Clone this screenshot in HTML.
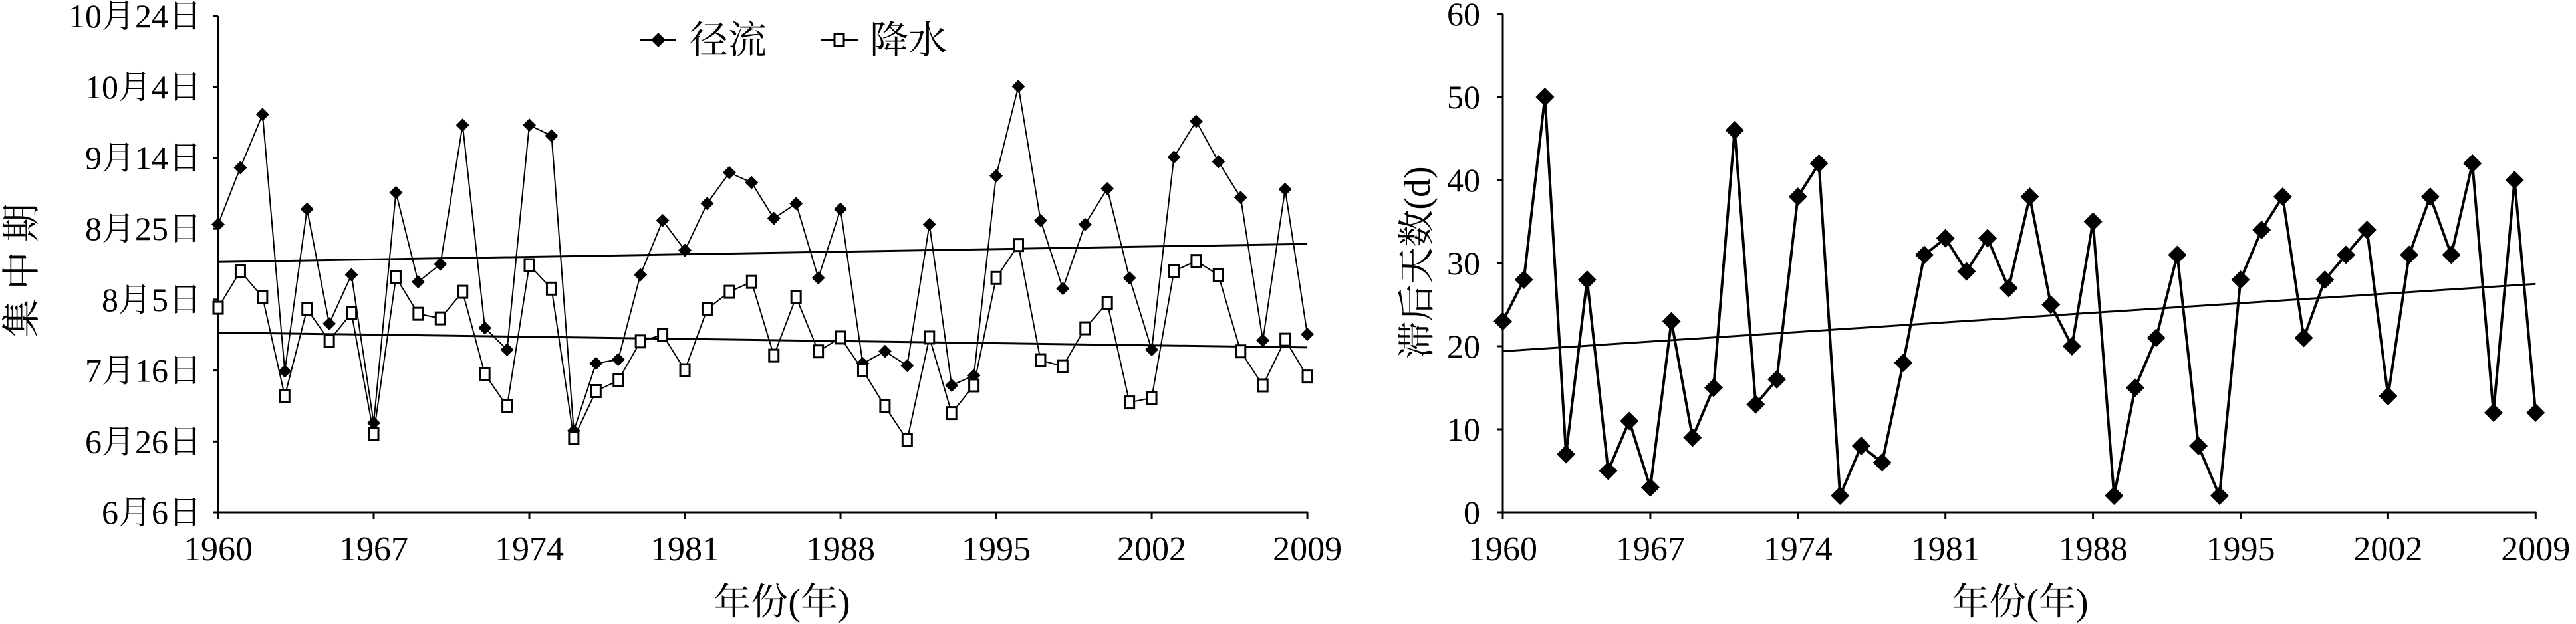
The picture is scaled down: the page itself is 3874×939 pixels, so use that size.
<!DOCTYPE html>
<html><head><meta charset="utf-8">
<style>
html,body{margin:0;padding:0;background:#fff;}
svg{display:block;}
text{font-family:"Liberation Serif","Noto Serif CJK SC","Noto Sans CJK SC",serif;fill:#000;}
</style></head>
<body>
<svg id="s" width="3874" height="939" viewBox="0 0 3874 939" xmlns="http://www.w3.org/2000/svg"></svg>
<script>
const s=document.getElementById('s');
let h='';
function ln(x1,y1,x2,y2,w){h+=`<line x1="${x1}" y1="${y1}" x2="${x2}" y2="${y2}" stroke="#000" stroke-width="${w}"/>`;}
function tx(x,y,t,sz,anc,extra){h+=`<text x="${x}" y="${y}" font-size="${sz}" text-anchor="${anc||'middle'}" ${extra||''}>${t}</text>`;}
function dia(x,y,r){h+=`<polygon points="${x},${y-r} ${x+r},${y} ${x},${y+r} ${x-r},${y}" fill="#000"/>`;}
function sq(x,y){h+=`<rect x="${x-7}" y="${y-9}" width="14" height="18" fill="#fff" stroke="#000" stroke-width="3"/>`;}
const L0=328,LS=33.43,LY0=771,LD=5.336;
const run=[81.2,97.2,112.2,39.8,85.5,53.2,67.0,25.2,90.2,65.0,70.0,109.2,52.0,45.9,109.2,106.2,23.0,42.0,43.1,67.0,82.3,73.9,87.1,95.8,93.0,82.9,87.1,66.1,85.5,42.0,45.4,41.4,81.2,35.8,38.6,94.9,120.1,82.3,63.1,81.2,91.3,66.1,45.9,100.2,110.3,98.9,88.8,48.5,91.1,50.2];
const pre=[57.7,68.0,60.7,32.8,57.3,48.4,56.2,22.1,66.3,56.0,54.7,62.2,39.0,29.9,69.7,63.1,20.9,34.2,37.2,48.2,50.1,40.1,57.3,62.2,65.0,44.2,60.7,45.4,49.3,40.1,29.9,20.4,49.3,28.0,35.8,66.1,75.4,42.9,41.2,51.9,59.1,31.0,32.3,68.0,70.9,66.9,45.4,35.8,48.7,38.3];
const lx=i=>L0+i*LS, ly=d=>LY0-d*LD;
ln(L0,24,L0,773,3); ln(L0-2,771,lx(49)+1,771,3);
const ylab=['6月6日','6月26日','7月16日','8月5日','8月25日','9月14日','10月4日','10月24日'];
for(let k=0;k<8;k++){const y=LY0-k*106.7;ln(L0-8,y,L0,y,3);tx(303,y+17,ylab[k],50,'end');}
for(let k=0;k<=7;k++){const x=lx(k*7);ln(x,771,x,781,3);tx(x,843,String(1960+k*7),52);}
ln(lx(0),ly(70.6),lx(49),ly(75.7),3);
ln(lx(0),ly(50.7),lx(49),ly(46.5),3);
h+=`<polyline fill="none" stroke="#000" stroke-width="2" points="${run.map((d,i)=>lx(i)+','+ly(d)).join(' ')}"/>`;
h+=`<polyline fill="none" stroke="#000" stroke-width="2" points="${pre.map((d,i)=>lx(i)+','+ly(d)).join(' ')}"/>`;
run.forEach((d,i)=>dia(lx(i),ly(d),10));
pre.forEach((d,i)=>sq(lx(i),ly(d)));
ln(963,60,1017,60,3); dia(990,60,11); tx(1037,80,'径流',58,'start');
ln(1235,60,1290,60,3); sq(1262,60); tx(1308,80,'降水',58,'start');
h+=`<text x="0" y="0" font-size="58" letter-spacing="14" text-anchor="middle" transform="translate(52,400) rotate(-90)">集中期</text>`;
tx(1176,925,'年份(年)',56);
const R0=2260,RS=31.7,RY0=771,RU=12.5;
const lag=[23,28,50,7,28,5,11,3,23,9,15,46,13,16,38,42,2,8,6,18,31,33,29,33,27,38,25,20,35,2,15,21,31,8,2,28,34,38,21,28,31,34,14,31,38,31,42,12,40,12];
const rx=i=>R0+i*RS, ry=v=>RY0-v*RU;
ln(R0,21,R0,773,3); ln(R0-2,771,rx(49)+1,771,3);
for(let k=0;k<=6;k++){const y=ry(k*10);ln(R0-8,y,R0,y,3);tx(2226,y+17,String(k*10),50,'end');}
for(let k=0;k<=7;k++){const x=rx(k*7);ln(x,771,x,781,3);tx(x,843,String(1960+k*7),52);}
ln(rx(0),ry(19.4),rx(49),ry(27.5),3);
h+=`<polyline fill="none" stroke="#000" stroke-width="4" points="${lag.map((v,i)=>rx(i)+','+ry(v)).join(' ')}"/>`;
lag.forEach((v,i)=>dia(rx(i),ry(v),14));
h+=`<text x="0" y="0" font-size="56" text-anchor="middle" transform="translate(2150,395) rotate(-90)">滞后天数(d)</text>`;
tx(3038,925,'年份(年)',56);
s.innerHTML=h;
</script>
</body></html>
